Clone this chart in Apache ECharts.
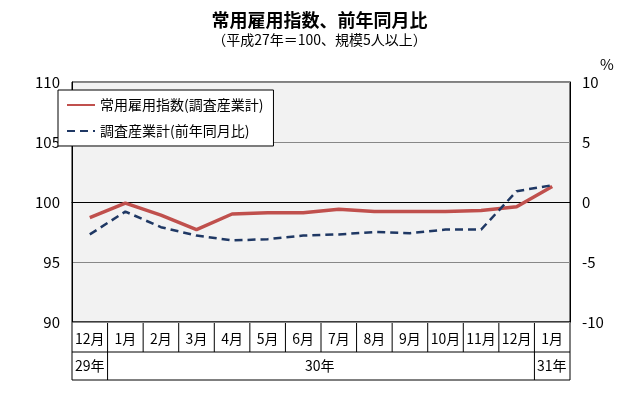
<!DOCTYPE html>
<html><head><meta charset="utf-8">
<script src="https://cdn.jsdelivr.net/npm/echarts@6/dist/echarts.min.js"></script>
<style>html,body{margin:0;background:#fff}#c{width:639px;height:417px}</style>
</head><body><div id="c"></div>
<script>
var months = ['12月','1月','2月','3月','4月','5月','6月','7月','8月','9月','10月','11月','12月','1月'];
var indexValues = [98.7, 99.9, 98.9, 97.7, 99.0, 99.1, 99.1, 99.4, 99.2, 99.2, 99.2, 99.3, 99.6, 101.3];
var yoyValues = [-2.7, -0.8, -2.1, -2.8, -3.2, -3.1, -2.8, -2.7, -2.5, -2.6, -2.3, -2.3, 0.9, 1.4];
var font = '"Noto Sans CJK JP", sans-serif';
var chart = echarts.init(document.getElementById('c'));
var gl = 72, gr = 570, cw = (gr - gl) / months.length;
var graphics = [
  { type: 'rect', shape: { x: gl, y: 322, width: gr - gl, height: 58 }, style: { fill: 'none', stroke: '#000', lineWidth: 1 } },
  { type: 'line', shape: { x1: gl, y1: 352, x2: gr, y2: 352 }, style: { stroke: '#000' } },
  { type: 'line', shape: { x1: gl + cw, y1: 352, x2: gl + cw, y2: 380 }, style: { stroke: '#000' } },
  { type: 'line', shape: { x1: gr - cw, y1: 352, x2: gr - cw, y2: 380 }, style: { stroke: '#000' } },
  { type: 'text', left: 75, top: 359, style: { text: '29年', fontSize: 14, fontFamily: font, fill: '#000' } },
  { type: 'text', left: 305, top: 359, style: { text: '30年', fontSize: 14, fontFamily: font, fill: '#000' } },
  { type: 'text', left: 537, top: 359, style: { text: '31年', fontSize: 14, fontFamily: font, fill: '#000' } }
];
for (var i = 1; i < months.length; i++) {
  graphics.push({ type: 'line', shape: { x1: gl + cw * i, y1: 322, x2: gl + cw * i, y2: 352 }, style: { stroke: '#000' } });
}
chart.setOption({
  textStyle: { fontFamily: font },
  title: {
    text: '常用雇用指数、前年同月比',
    subtext: '（平成27年＝100、規模5人以上）',
    left: 'center', top: 6, itemGap: 4,
    textStyle: { fontSize: 18, fontWeight: 'bold', color: '#000' },
    subtextStyle: { fontSize: 14, color: '#000' }
  },
  grid: { left: gl, right: 639 - gr, top: 82, bottom: 95, show: true, backgroundColor: '#f2f2f2', borderColor: '#000', borderWidth: 1 },
  legend: {
    left: 58, top: 90, orient: 'vertical', itemGap: 12, padding: [8, 10, 8, 8],
    backgroundColor: '#fff', borderColor: '#000', borderWidth: 1,
    itemWidth: 28, itemStyle: { opacity: 0 }, textStyle: { fontSize: 14, color: '#000' },
    data: ['常用雇用指数(調査産業計)', '調査産業計(前年同月比)']
  },
  xAxis: {
    type: 'category', data: months, boundaryGap: true,
    axisLine: { lineStyle: { color: '#000' } },
    axisTick: { show: false },
    axisLabel: { color: '#000', fontSize: 14, margin: 10, interval: 0 }
  },
  yAxis: [{
    type: 'value', min: 90, max: 110, interval: 5,
    axisLine: { show: true, lineStyle: { color: '#000' } },
    axisLabel: { color: '#000', fontSize: 15, margin: 12 },
    splitLine: { lineStyle: { color: '#888' } }
  }, {
    type: 'value', min: -10, max: 10, interval: 5, name: '%', nameGap: 10,
    nameTextStyle: { color: '#000', fontSize: 15, align: 'left', padding: [0, 0, 0, 30] },
    axisLine: { show: true, lineStyle: { color: '#000' } },
    axisLabel: { color: '#000', fontSize: 15, margin: 12 },
    splitLine: { show: false }
  }],
  series: [{
    name: '常用雇用指数(調査産業計)', type: 'line', yAxisIndex: 0, data: indexValues,
    symbol: 'none', lineStyle: { color: '#c0504d', width: 3.5 }, itemStyle: { color: '#c0504d' }
  }, {
    name: '調査産業計(前年同月比)', type: 'line', yAxisIndex: 1, data: yoyValues,
    symbol: 'none', lineStyle: { color: '#1f3864', width: 2.5, type: [8, 5] }, itemStyle: { color: '#1f3864' }
  }],
  graphic: graphics
});
</script></body></html>
